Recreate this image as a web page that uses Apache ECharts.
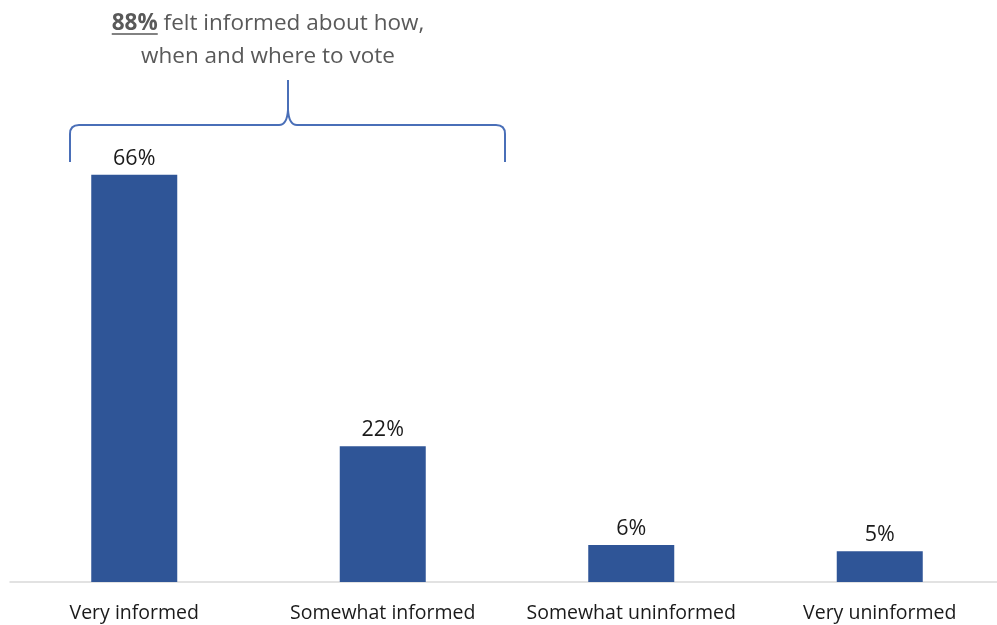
<!DOCTYPE html>
<html>
<head>
<meta charset="utf-8">
<script src="https://cdn.jsdelivr.net/npm/echarts@6/dist/echarts.min.js"></script>
<style>
  html, body { margin: 0; padding: 0; background: #ffffff; }
  #chart { width: 997px; height: 625px; }
</style>
</head>
<body>
<div id="chart"></div>
<script>
// Survey responses: how informed voters felt about voting logistics
const categories = ['Very informed', 'Somewhat informed', 'Somewhat uninformed', 'Very uninformed'];
const shares = [66, 22, 6, 5];
const informedTotal = 88;

const FONT = '"Open Sans", "Noto Sans", sans-serif';
const HEAD_SIZE = 22.5;
const HEAD_CX = 268;

// measure headline pieces so the underline sits under the bold figure
const mctx = document.createElement('canvas').getContext('2d');
mctx.font = 'bold ' + HEAD_SIZE + 'px ' + FONT;
const figW = mctx.measureText(informedTotal + '%').width;
mctx.font = HEAD_SIZE + 'px ' + FONT;
const restW = mctx.measureText(' felt informed about how,').width;
const line1Left = HEAD_CX - (figW + restW) / 2;

const BRACE = '#4a6fb8';
const braceLines = [
  [70, 162, 70, 134], [79, 125, 279, 125], [288, 110, 288, 80],
  [297, 125, 496, 125], [505, 134, 505, 162]
].map(p => ({ type: 'line', shape: { x1: p[0], y1: p[1], x2: p[2], y2: p[3] }, style: { stroke: BRACE, lineWidth: 2 } }));
const braceCurves = [
  [70, 134, 70, 125, 79, 125],
  [279, 125, 287, 125, 288, 110],
  [288, 110, 289, 125, 297, 125],
  [496, 125, 505, 125, 505, 134]
].map(c => ({ type: 'bezierCurve', shape: { x1: c[0], y1: c[1], cpx1: c[2], cpy1: c[3], x2: c[4], y2: c[5] }, style: { stroke: BRACE, lineWidth: 2, fill: null } }));

const chart = echarts.init(document.getElementById('chart'), null, { renderer: 'canvas' });

chart.setOption({
  backgroundColor: '#ffffff',
  animation: false,
  title: {
    text: '{b|' + informedTotal + '%} felt informed about how,\nwhen and where to vote',
    left: HEAD_CX,
    top: 7,
    padding: 0,
    textAlign: 'center',
    textStyle: {
      fontFamily: FONT,
      fontSize: HEAD_SIZE,
      fontWeight: 'normal',
      color: '#595959',
      lineHeight: 33,
      rich: {
        b: { fontFamily: FONT, fontSize: HEAD_SIZE, fontWeight: 'bold', color: '#595959', lineHeight: 33 }
      }
    }
  },
  grid: { left: 10, width: 994, top: 150, bottom: 43, containLabel: false, outerBoundsMode: 'none' },
  xAxis: {
    type: 'category',
    data: categories,
    axisLine: { show: true, lineStyle: { color: '#d9d9d9', width: 1.5 } },
    axisTick: { show: false },
    axisLabel: { interval: 0, fontFamily: FONT, fontSize: 19.5, color: '#1a1a1a', margin: 21 }
  },
  yAxis: {
    type: 'value',
    min: 0,
    max: 70,
    show: false
  },
  series: [{
    type: 'bar',
    data: shares,
    barWidth: 86,
    itemStyle: { color: '#2f5597' },
    label: {
      show: true,
      position: 'top',
      distance: 5,
      formatter: '{c}%',
      fontFamily: FONT,
      fontSize: 21.5,
      color: '#1a1a1a'
    }
  }],
  graphic: [
    { type: 'line', shape: { x1: line1Left, y1: 34, x2: line1Left + figW, y2: 34 }, style: { stroke: '#595959', lineWidth: 1.5 } }
  ].concat(braceLines, braceCurves)
});
</script>
</body>
</html>
